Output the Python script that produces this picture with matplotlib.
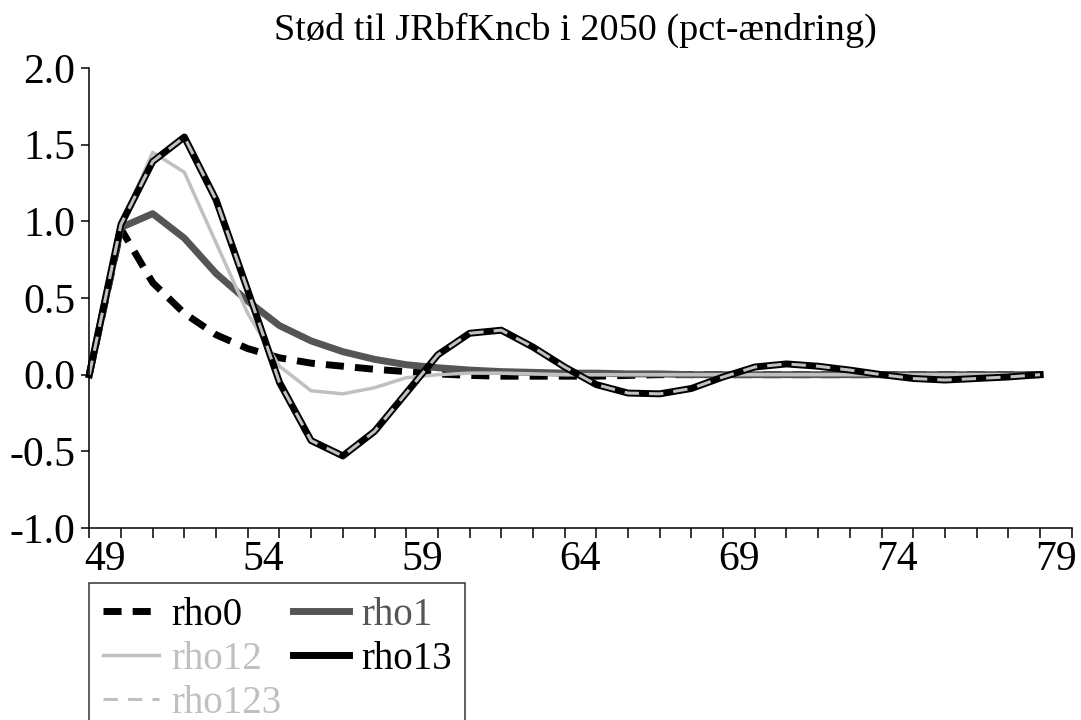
import matplotlib
matplotlib.use("Agg")
import matplotlib.pyplot as plt
from matplotlib.ticker import FixedLocator, NullFormatter, FixedFormatter

plt.rcParams["font.family"] = ["Liberation Serif", "DejaVu Serif"]
plt.rcParams["axes.unicode_minus"] = False

# values, one per period (first period is the 0 start)
periods = list(range(31))
tick_labels = ["49", "54", "59", "64", "69", "74", "79"]

rho0 = [0, 0.95, 0.60, 0.40, 0.26, 0.17, 0.11, 0.075, 0.055, 0.035, 0.02,
        0.005, -0.005, -0.01, -0.01, -0.01, -0.01, -0.005, 0, 0, 0,
        0, 0, 0, 0, 0, 0, 0, 0, 0, 0]
rho1 = [0, 0.96, 1.05, 0.89, 0.66, 0.48, 0.32, 0.22, 0.15, 0.10, 0.065,
        0.045, 0.03, 0.02, 0.015, 0.01, 0.01, 0.005, 0.005, 0, 0,
        0, 0, 0, 0, 0, 0, 0, 0, 0, 0]
rho12 = [0, 0.98, 1.45, 1.32, 0.86, 0.40, 0.055, -0.105, -0.125, -0.085, -0.02,
         0.0, 0.01, 0.01, 0.005, 0, 0, 0, 0, 0, 0,
         0, 0, 0, 0, 0, 0, 0, 0, 0, 0]
rho13 = [0, 0.98, 1.39, 1.55, 1.14, 0.55, -0.05, -0.43, -0.53, -0.37, -0.12,
         0.13, 0.27, 0.29, 0.18, 0.05, -0.065, -0.12, -0.125, -0.09, -0.015,
         0.05, 0.07, 0.055, 0.03, 0.0, -0.025, -0.035, -0.025, -0.015, 0.0]
rho123 = [0, 0.98, 1.39, 1.55, 1.14, 0.55, -0.05, -0.43, -0.53, -0.37, -0.12,
          0.13, 0.27, 0.29, 0.18, 0.05, -0.065, -0.12, -0.125, -0.09, -0.015,
          0.05, 0.07, 0.055, 0.03, 0.0, -0.025, -0.035, -0.025, -0.015, 0.0]

black = "#000000"
dark = "#555555"
light = "#c0c0c0"

fig = plt.figure(figsize=(10.81, 7.2), dpi=100)
ax = fig.add_axes([89.3 / 1081, 192 / 720, 982.4 / 1081, 460 / 720])

l0, = ax.plot(periods, rho0, color=black, lw=5, dashes=(2.6, 1.6),
              dash_capstyle="butt", clip_on=False, label="rho0")
l1, = ax.plot(periods, rho1, color=dark, lw=5, clip_on=False, label="rho1")
l12, = ax.plot(periods, rho12, color=light, lw=2.5, clip_on=False, label="rho12")
l13, = ax.plot(periods, rho13, color=black, lw=5, clip_on=False, label="rho13")
l123, = ax.plot(periods, rho123, color=light, lw=2.2, dashes=(4.7, 3.3),
                dash_capstyle="butt", clip_on=False, label="rho123")

ax.set_xlim(0, 31)
ax.set_ylim(-1.0, 2.0)

for s in ["top", "right"]:
    ax.spines[s].set_visible(False)
for s in ["left", "bottom"]:
    ax.spines[s].set_linewidth(1.1)

ax.set_yticks([-1.0, -0.5, 0.0, 0.5, 1.0, 1.5, 2.0])
ax.set_yticklabels(["%.1f" % v for v in [-1.0, -0.5, 0.0, 0.5, 1.0, 1.5, 2.0]])
ax.tick_params(axis="y", direction="out", length=6, width=1.1, pad=4,
               labelsize=30)

# tick marks at period boundaries, labels centred between them
ax.xaxis.set_major_locator(FixedLocator(list(range(32))))
ax.xaxis.set_major_formatter(NullFormatter())
ax.xaxis.set_minor_locator(FixedLocator([i + 0.5 for i in range(0, 31, 5)]))
ax.xaxis.set_minor_formatter(FixedFormatter(tick_labels))
ax.tick_params(axis="x", which="major", direction="out", length=7, width=1.1)
ax.tick_params(axis="x", which="minor", length=0, pad=9, labelsize=30)

fig.text(0.532, 0.958, "Stød til JRbfKncb i 2050 (pct-ændring)", ha="center",
         va="center", fontsize=27.5)

handles = [l0, l12, l123, l1, l13]
leg = ax.legend(handles=handles, loc="upper left", bbox_to_anchor=(0, -0.12),
                borderaxespad=0, ncol=2, fontsize=28, frameon=True,
                fancybox=False, edgecolor="black", handlelength=1.45,
                handletextpad=0.3, columnspacing=0.3, labelspacing=0.18,
                borderpad=0.35)
leg.get_frame().set_linewidth(1.1)
for txt, h in zip(leg.get_texts(), handles):
    txt.set_color(h.get_color())

fig.savefig("out.png", dpi=100)
